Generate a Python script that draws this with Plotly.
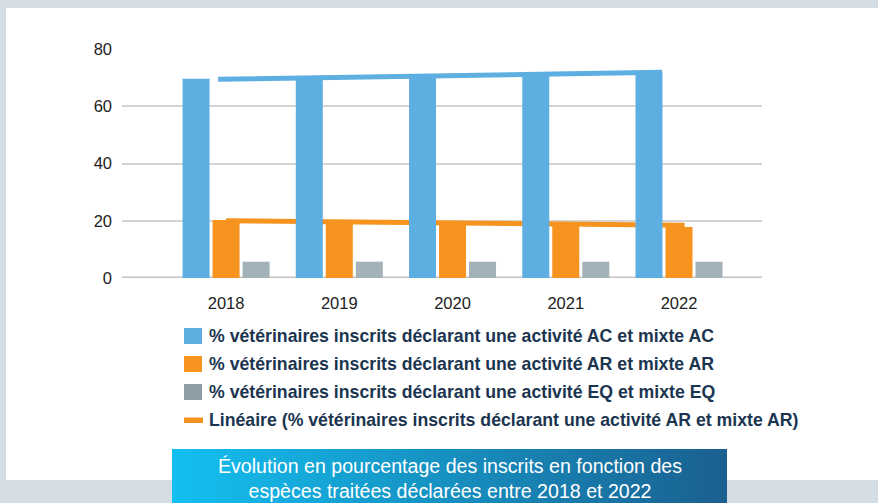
import plotly.graph_objects as go

# ---- data ----
years = ["2018", "2019", "2020", "2021", "2022"]
ac_values = [69.6, 69.8, 70.6, 71.3, 72.0]
ar_values = [20.3, 20.0, 19.6, 19.5, 17.8]
eq_values = [5.7, 5.7, 5.7, 5.7, 5.7]
trend_ac_x = [-0.07, 3.85]
trend_ac_y = [69.4, 71.9]
trend_ar_x = [0.0, 4.05]
trend_ar_y = [20.0, 18.4]
y_ticks = [0, 20, 40, 60, 80]
legend_labels = [
    "% vétérinaires inscrits déclarant une activité AC et mixte AC",
    "% vétérinaires inscrits déclarant une activité AR et mixte AR",
    "% vétérinaires inscrits déclarant une activité EQ et mixte EQ",
    "Linéaire (% vétérinaires inscrits déclarant une activité AR et mixte AR)",
]
caption = "Évolution en pourcentage des inscrits en fonction des<br>espèces traitées déclarées entre 2018 et 2022"

BLUE = "#5EAFE1"
ORANGE = "#F7941F"
GRAY = "#A3B1B8"
GRAY_LEG = "#8D9CA5"
NAVY = "#1B3550"
FRAME = "#D5DDE4"

W, H = 878, 503
L, R, T, B = 122, 116, 49, 225
PW, PH = W - L - R, H - T - B


def px(x):
    return (x - L) / PW


def py(y):
    return (H - B - y) / PH


xr = [-0.919, 4.733]
x_idx = list(range(len(years)))

fig = go.Figure()

# trend lines on the base subplot (behind the bars)
fig.add_trace(go.Scatter(x=trend_ac_x, y=trend_ac_y, mode="lines",
                         line=dict(color=BLUE, width=5), xaxis="x", yaxis="y"))
fig.add_trace(go.Scatter(x=trend_ar_x, y=trend_ar_y, mode="lines",
                         line=dict(color=ORANGE, width=5), xaxis="x", yaxis="y"))

# bars on overlay subplot
for vals, col in [(ac_values, BLUE), (ar_values, ORANGE), (eq_values, GRAY)]:
    fig.add_trace(go.Bar(x=x_idx, y=vals, marker=dict(color=col, line=dict(width=0)),
                         xaxis="x2", yaxis="y2"))

shapes = []
# frame strips
shapes.append(dict(type="rect", xref="paper", yref="paper", x0=px(0), x1=px(W), y0=py(0), y1=py(8),
                   fillcolor=FRAME, line=dict(width=0), layer="below"))
shapes.append(dict(type="rect", xref="paper", yref="paper", x0=px(0), x1=px(6), y0=py(0), y1=py(H),
                   fillcolor=FRAME, line=dict(width=0), layer="below"))
shapes.append(dict(type="rect", xref="paper", yref="paper", x0=px(0), x1=px(W), y0=py(480), y1=py(H),
                   fillcolor=FRAME, line=dict(width=0), layer="below"))
# baseline
shapes.append(dict(type="line", xref="paper", yref="y", x0=0, x1=1, y0=0, y1=0,
                   line=dict(color="#C3C3C3", width=3), layer="below"))

# caption gradient box
c0 = (0x13, 0xBF, 0xF0)
c1 = (0x1A, 0x60, 0x90)
bx0, bx1, by0, by1 = 172, 727, 449, 503
n = 111
step = (bx1 - bx0) / n
for i in range(n):
    t = i / (n - 1)
    c = tuple(round(c0[k] + (c1[k] - c0[k]) * t) for k in range(3))
    shapes.append(dict(type="rect", xref="paper", yref="paper",
                       x0=px(bx0 + i * step), x1=px(min(bx1, bx0 + (i + 1) * step + 0.6)),
                       y0=py(by0), y1=py(by1),
                       fillcolor="rgb(%d,%d,%d)" % c, line=dict(width=0), layer="above"))

# legend markers
rows = [336, 364, 392, 420]
leg_cols = [BLUE, ORANGE, GRAY_LEG]
for r, col in zip(rows[:3], leg_cols):
    shapes.append(dict(type="rect", xref="paper", yref="paper", x0=px(184), x1=px(202),
                       y0=py(r - 8), y1=py(r + 8), fillcolor=col, line=dict(width=0), layer="above"))
shapes.append(dict(type="rect", xref="paper", yref="paper", x0=px(184), x1=px(203),
                   y0=py(rows[3] - 2.5), y1=py(rows[3] + 3), fillcolor=ORANGE, line=dict(width=0), layer="above"))

annotations = []
leg_font = dict(family="Liberation Sans, Arial, sans-serif", size=17.7, color=NAVY, weight="bold")
for r, lab in zip(rows, legend_labels):
    annotations.append(dict(xref="paper", yref="paper", x=px(207), y=py(r), text=lab,
                            showarrow=False, xanchor="left", yanchor="middle", font=leg_font))
annotations.append(dict(xref="paper", yref="paper", x=px(449.5), y=py(478), text=caption,
                        showarrow=False, xanchor="center", yanchor="middle", align="center",
                        font=dict(family="Liberation Sans, Arial, sans-serif",
                                  size=19.6, color="white")))

tickfont = dict(family="Liberation Sans, Arial, sans-serif", size=16.5, color="#222222")

fig.update_layout(
    width=W, height=H,
    margin=dict(l=L, r=R, t=T, b=B, pad=0),
    paper_bgcolor="white", plot_bgcolor="white",
    showlegend=False,
    barmode="group", bargap=0.205, bargroupgap=0.1,
    xaxis=dict(range=xr, tickvals=x_idx, ticktext=years, showgrid=False, zeroline=False,
               showline=False, ticks="", tickfont=tickfont, ticklabelstandoff=13),
    yaxis=dict(range=[0, 80], tickvals=y_ticks, showgrid=True, gridcolor="#D4D4D4", gridwidth=1.5,
               zeroline=False, showline=False, ticks="", tickfont=tickfont, ticklabelstandoff=9),
    xaxis2=dict(range=xr, overlaying="x", visible=False),
    yaxis2=dict(range=[0, 80], overlaying="y", visible=False),
    shapes=shapes,
    annotations=annotations,
)

fig.write_html("out.html", config={"displayModeBar": False},
               post_script="document.body.style.margin='0px';document.body.style.overflow='hidden';")
